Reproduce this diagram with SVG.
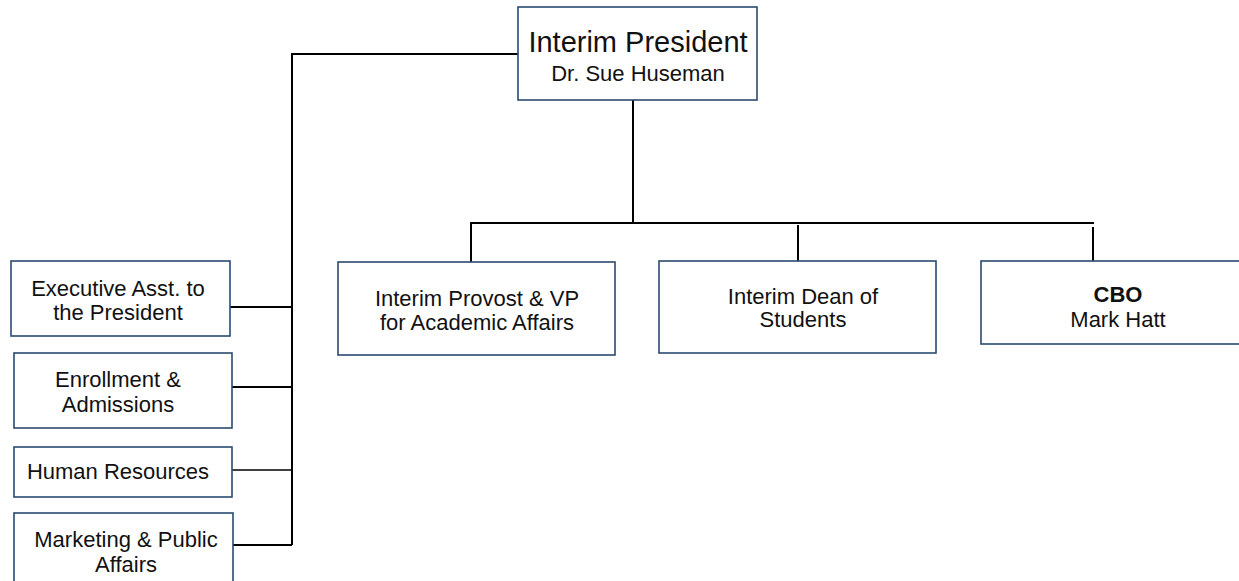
<svg xmlns="http://www.w3.org/2000/svg" width="1239" height="581" viewBox="0 0 1239 581">
<style>
.box{fill:#ffffff;stroke:#2b4a6e;stroke-width:1.6}
.t{font-family:"Liberation Sans",Arial,sans-serif;font-size:22px;fill:#111111;text-anchor:middle}
.big{font-size:29px}
.b{font-weight:bold}
.ln{stroke:#000000;stroke-width:2;fill:none}
</style>
<rect width="1239" height="581" fill="#ffffff"/>
<g id="connectors">
<path class="ln" d="M518 54H292V545"/>
<path class="ln" d="M230 307H292"/>
<path class="ln" d="M232 387H292"/>
<path class="ln" d="M232 470H292" style="stroke-width:1.5"/>
<path class="ln" d="M232 545H292"/>
<path class="ln" d="M633 100V223"/>
<path class="ln" d="M470 223H1094"/>
<path class="ln" d="M471 223V262"/>
<path class="ln" d="M798 225V261"/>
<path class="ln" d="M1093 227V261"/>
</g>
<g id="president">
<rect class="box" x="518" y="7" width="239" height="93"/>
<text class="t big" x="638" y="52">Interim President</text>
<text class="t" x="638" y="81">Dr. Sue Huseman</text>
</g>
<g id="provost">
<rect class="box" x="338" y="262" width="277" height="93"/>
<text class="t" x="477" y="306">Interim Provost &amp; VP</text>
<text class="t" x="477" y="330">for Academic Affairs</text>
</g>
<g id="dean">
<rect class="box" x="659" y="261" width="277" height="92"/>
<text class="t" x="803" y="304">Interim Dean of</text>
<text class="t" x="803" y="327">Students</text>
</g>
<g id="cbo">
<rect class="box" x="981" y="261" width="280" height="83"/>
<text class="t b" x="1118" y="302">CBO</text>
<text class="t" x="1118" y="327">Mark Hatt</text>
</g>
<g id="exec">
<rect class="box" x="11" y="261" width="219" height="75"/>
<text class="t" x="118" y="296">Executive Asst. to</text>
<text class="t" x="118" y="320">the President</text>
</g>
<g id="enrollment">
<rect class="box" x="14" y="353" width="218" height="75"/>
<text class="t" x="118" y="387">Enrollment &amp;</text>
<text class="t" x="118" y="412">Admissions</text>
</g>
<g id="hr">
<rect class="box" x="14" y="447" width="218" height="50"/>
<text class="t" x="118" y="479">Human Resources</text>
</g>
<g id="marketing">
<rect class="box" x="14" y="513" width="219" height="80"/>
<text class="t" x="126" y="547">Marketing &amp; Public</text>
<text class="t" x="126" y="572">Affairs</text>
</g>
</svg>
